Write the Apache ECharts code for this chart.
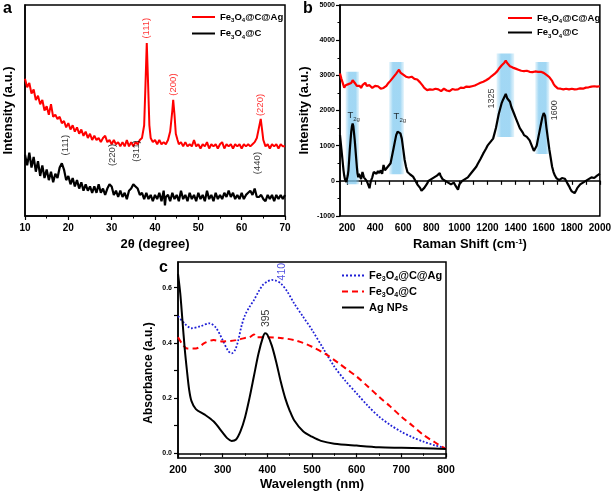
<!DOCTYPE html>
<html><head><meta charset="utf-8">
<script src="https://cdn.jsdelivr.net/npm/echarts@6/dist/echarts.min.js"></script>
<style>html,body{margin:0;padding:0;background:#fff}#c{width:614px;height:494px}</style>
</head><body><div id="c"></div>
<script>
const FONT = 'Liberation Sans, Arial, sans-serif';

// ---- Panel a: XRD (arbitrary intensity units) ----
const aRed = [[10,65],[10.5,61],[11,63],[11.5,58],[12,60],[12.5,55],[13,57],[13.5,53],[14,55],[14.5,50],[15,52],[15.5,48],[16,53],[16.5,47],[17,48],[17.5,46],[18,47],[18.5,44],[19,45],[19.5,42],[20,44],[20.5,41],[21,43],[21.5,40],[22,42],[22.5,39],[23,41],[23.5,38],[24,40],[24.5,37],[25,39],[25.5,36],[26,38],[26.5,36],[27,37],[27.5,35],[28,37],[28.5,38],[29,35],[29.5,36],[30,34],[30.5,36],[31,34],[31.5,35],[32,33],[32.5,35],[33,33],[33.5,36],[34,33],[34.5,35],[35,33],[35.5,35],[36,34],[36.5,36],[37,37],[37.5,43],[37.8,62],[38.1,82],[38.4,63],[38.7,43],[39,37],[39.5,35],[40,36],[40.5,34],[41,36],[41.5,34],[42,35],[42.5,34],[43,36],[43.5,40],[44,50],[44.2,55],[44.5,48],[44.8,39],[45.2,36],[45.5,34],[46,35],[46.5,33],[47,35],[47.5,33],[48,34],[48.5,33],[49,36],[49.5,33],[50,34],[50.5,32],[51,34],[51.5,33],[52,35],[52.5,32],[53,34],[53.5,33],[54,34],[54.5,32],[55,34],[55.5,35],[56,32],[56.5,34],[57,33],[57.5,34],[58,32],[58.5,34],[59,33],[59.5,34],[60,32],[60.5,34],[61,33],[61.5,34],[62,33],[62.5,34],[63,35],[63.5,37],[64,42],[64.4,46],[64.7,41],[65,36],[65.5,33],[66,34],[66.5,32],[67,34],[67.5,33],[68,34],[68.5,32],[69,34],[69.5,33],[70,33]];
const aBlack = [[10,29],[10.5,24],[11,30],[11.5,23],[12,28],[12.5,21],[13,26],[13.5,19],[14,24],[14.5,18],[15,22],[15.5,17],[16,21],[16.5,16],[17,20],[17.5,18],[18,23],[18.5,25],[19,22],[19.5,17],[20,19],[20.5,15],[21,18],[21.5,14],[22,17],[22.5,13],[23,16],[23.5,12],[24,15],[24.5,12],[25,14],[25.5,11],[26,14],[26.5,11],[27,15],[27.5,11],[28,13],[28.5,10],[29,13],[29.5,15],[30,14],[30.5,10],[31,12],[31.5,9],[32,12],[32.5,9],[33,11],[33.5,8],[34,12],[34.5,13],[35,15],[35.5,14],[36,13],[36.5,10],[37,11],[37.5,8],[38,11],[38.5,8],[39,10],[39.5,7],[40,10],[40.5,8],[41,11],[41.5,7],[42,12],[42.3,5],[42.5,9],[43,10],[43.5,7],[44,11],[44.5,8],[45,10],[45.5,7],[46,12],[46.5,8],[47,10],[47.5,7],[48,11],[48.5,8],[49,10],[49.5,7],[50,11],[50.5,8],[51,10],[51.5,7],[52,12],[52.5,8],[53,10],[53.5,7],[54,11],[54.5,8],[55,10],[55.5,8],[56,11],[56.5,9],[57,12],[57.5,9],[58,11],[58.5,8],[59,10],[59.5,8],[60,11],[60.5,8],[61,10],[61.5,11],[62,12],[62.5,10],[63,13],[63.5,9],[64,9],[64.5,10],[65,8],[65.5,7],[66,10],[66.5,8],[67,10],[67.5,7],[68,10],[68.5,8],[69,10],[69.5,8],[70,10]];
const aAnnRed = [[38.1,89,'(111)'],[44.2,62.3,'(200)'],[64.4,52.6,'(220)']];
const aAnnBlack = [[19.4,33.6,'(111)'],[30.1,28.9,'(220)'],[35.6,30.8,'(311)'],[63.7,25.1,'(440)']];

// ---- Panel b: Raman ----
const bRed = [[150,3050],[160,2900],[170,2780],[180,2650],[190,2720],[200,2680],[210,2750],[220,2700],[230,2780],[240,2860],[250,2820],[260,2760],[270,2700],[280,2660],[290,2700],[300,2640],[310,2720],[320,2680],[330,2790],[340,2700],[350,2680],[360,2720],[370,2690],[380,2640],[390,2620],[400,2700],[410,2730],[420,2690],[430,2660],[440,2620],[450,2600],[460,2640],[470,2660],[480,2700],[490,2760],[500,2800],[510,2850],[520,2900],[530,2950],[540,3000],[550,3050],[560,3100],[570,3160],[580,3080],[590,3060],[600,3020],[610,3000],[620,2960],[630,2980],[640,2940],[650,2920],[660,2960],[670,2950],[680,2900],[690,2920],[700,2880],[710,2850],[720,2800],[730,2760],[740,2700],[750,2640],[760,2600],[770,2580],[780,2560],[790,2600],[800,2570],[810,2590],[820,2560],[830,2620],[840,2580],[850,2600],[860,2570],[870,2550],[880,2600],[890,2620],[900,2580],[910,2570],[920,2600],[930,2550],[940,2580],[950,2610],[960,2580],[970,2590],[980,2620],[990,2600],[1000,2630],[1010,2650],[1020,2610],[1030,2640],[1040,2660],[1050,2680],[1060,2650],[1070,2670],[1080,2700],[1090,2690],[1100,2720],[1110,2710],[1120,2740],[1130,2750],[1140,2760],[1150,2790],[1160,2800],[1170,2820],[1180,2850],[1190,2860],[1200,2900],[1210,2910],[1220,2950],[1230,2980],[1240,3000],[1250,3040],[1260,3080],[1270,3120],[1280,3180],[1290,3220],[1300,3280],[1310,3320],[1320,3360],[1330,3420],[1340,3350],[1350,3300],[1360,3260],[1370,3240],[1380,3220],[1390,3200],[1400,3190],[1410,3170],[1420,3160],[1430,3140],[1440,3130],[1450,3110],[1460,3120],[1470,3100],[1480,3130],[1490,3110],[1500,3100],[1510,3120],[1520,3090],[1530,3100],[1540,3110],[1550,3090],[1560,3100],[1570,3080],[1580,3100],[1590,3090],[1600,3070],[1610,3040],[1620,3010],[1630,2980],[1640,2950],[1650,2900],[1660,2840],[1670,2760],[1680,2700],[1690,2650],[1700,2630],[1720,2620],[1740,2600],[1760,2620],[1780,2600],[1800,2620],[1820,2600],[1840,2610],[1860,2630],[1880,2620],[1900,2650],[1920,2660],[1940,2680],[1960,2690],[1980,2680],[2000,2690]];
const bBlack = [[150,1300],[155,1100],[160,900],[165,700],[170,500],[175,300],[180,150],[185,50],[190,0],[195,-30],[200,60],[205,150],[210,300],[215,600],[220,900],[225,1150],[230,1400],[235,1550],[240,1630],[245,1550],[250,1350],[255,1150],[260,900],[265,650],[270,400],[275,200],[280,100],[285,200],[290,150],[295,250],[300,50],[305,150],[310,250],[315,180],[320,100],[330,50],[340,0],[350,-100],[355,-150],[360,-210],[365,-100],[370,0],[380,100],[390,250],[400,300],[410,200],[420,280],[430,220],[440,300],[450,200],[460,450],[470,300],[480,250],[490,400],[500,350],[510,500],[520,700],[530,900],[540,1100],[550,1300],[560,1400],[570,1420],[580,1350],[590,1200],[600,900],[610,600],[620,400],[630,250],[640,200],[650,180],[660,150],[670,120],[680,50],[690,0],[700,-100],[710,-150],[720,-200],[730,-280],[740,-250],[750,-200],[760,-150],[770,-80],[780,0],[790,-30],[800,50],[810,80],[820,100],[830,60],[840,150],[850,120],[860,220],[865,150],[870,100],[880,50],[890,80],[900,0],[910,-30],[920,-50],[930,-20],[940,-100],[950,-60],[960,-50],[970,-120],[980,-150],[990,-250],[1000,-100],[1010,-50],[1020,0],[1030,30],[1040,50],[1050,80],[1060,100],[1070,150],[1080,200],[1090,250],[1100,300],[1110,350],[1120,400],[1130,480],[1140,550],[1150,620],[1160,700],[1170,780],[1180,850],[1190,920],[1200,1000],[1210,1050],[1220,1100],[1230,1150],[1240,1200],[1250,1350],[1260,1500],[1270,1700],[1280,1900],[1290,2050],[1300,2200],[1310,2300],[1320,2350],[1330,2470],[1340,2350],[1350,2300],[1360,2250],[1370,2100],[1380,2000],[1390,1900],[1400,1800],[1410,1700],[1420,1600],[1430,1500],[1440,1450],[1450,1380],[1460,1300],[1470,1280],[1480,1250],[1490,1200],[1500,1150],[1510,1050],[1520,950],[1530,850],[1540,900],[1550,1000],[1560,1200],[1570,1400],[1580,1600],[1590,1800],[1600,1930],[1610,1850],[1620,1500],[1630,1200],[1640,900],[1650,650],[1660,400],[1670,250],[1680,150],[1690,80],[1700,50],[1710,20],[1720,0],[1730,80],[1740,100],[1750,60],[1760,0],[1770,-80],[1780,-150],[1790,-230],[1800,-300],[1810,-330],[1820,-350],[1830,-280],[1840,-200],[1850,-150],[1860,-100],[1870,-80],[1880,-50],[1890,-20],[1900,0],[1910,30],[1920,50],[1930,80],[1940,100],[1950,60],[1960,80],[1970,120],[1980,150],[1990,100],[2000,200]];
const bBands = [[190,285,-100,3100],[500,605,190,3380],[1265,1390,1250,3620],[1540,1640,760,3380]];
const bAnn = [[247,1850,'{n|T}{s|2g}',0],[576,1820,'{n|T}{s|2g}',0],[1230,2340,'1325',90],[1677,2010,'1600',90]];
const bXTicks = [200,300,400,500,600,700,800,900,1000,1100,1200,1300,1400,1500,1600,1700,1800,1900,2000];
const bXLabels = [200,400,600,800,1000,1200,1400,1600,1800,2000];

// ---- Panel c: UV-Vis ----
const cBlue = [[200,0.497],[215,0.47],[230,0.453],[250,0.46],[270,0.471],[285,0.455],[300,0.41],[312,0.372],[320,0.362],[328,0.375],[335,0.41],[342,0.46],[350,0.50],[360,0.53],[370,0.555],[380,0.585],[390,0.61],[400,0.622],[410,0.628],[420,0.625],[430,0.616],[445,0.585],[460,0.543],[480,0.495],[500,0.447],[525,0.38],[550,0.314],[575,0.262],[600,0.217],[625,0.172],[650,0.133],[675,0.103],[700,0.078],[725,0.058],[750,0.042],[775,0.029],[800,0.018]];
const cRed = [[200,0.42],[210,0.395],[220,0.38],[240,0.38],[260,0.40],[280,0.41],[300,0.405],[330,0.41],[350,0.418],[360,0.42],[370,0.43],[375,0.42],[400,0.42],[430,0.418],[460,0.41],[480,0.40],[500,0.386],[530,0.36],[560,0.326],[580,0.302],[600,0.278],[625,0.242],[650,0.205],[675,0.17],[700,0.133],[725,0.1],[750,0.066],[775,0.04],[800,0.015]];
const cBlack = [[200,0.65],[205,0.58],[210,0.48],[215,0.38],[220,0.30],[225,0.23],[230,0.19],[240,0.16],[260,0.14],[280,0.115],[300,0.075],[310,0.055],[320,0.045],[330,0.05],[340,0.08],[350,0.13],[360,0.2],[370,0.28],[380,0.36],[390,0.42],[395,0.435],[400,0.43],[410,0.39],[420,0.33],[430,0.26],[440,0.2],[450,0.155],[460,0.12],[480,0.08],[500,0.06],[520,0.045],[550,0.035],[600,0.028],[650,0.022],[700,0.02],[750,0.018],[800,0.016]];
const cAnn = [[432,0.658,'410','#1f1fd6'],[398,0.489,'395','#000']];
const cYLabels = [0,0.2,0.4,0.6];
const cYTicks = [0,0.1,0.2,0.3,0.4,0.5,0.6];

const legendText = {
  aFCA:'{n|Fe}{s|3}{n|O}{s|4}{n|@C@Ag}', aFC:'{n|Fe}{s|3}{n|O}{s|4}{n|@C}',
  bFCA:'{n|Fe}{s|3}{n|O}{s|4}{n|@C@Ag}', bFC:'{n|Fe}{s|3}{n|O}{s|4}{n|@C}',
  cFCA:'{n|Fe}{s|3}{n|O}{s|4}{n|@C@Ag}', cFC:'{n|Fe}{s|3}{n|O}{s|4}{n|@C}', cAg:'{n|Ag NPs}'
};
const subRich = (fn, fs, lh) => ({
  n:{fontSize:fn, fontWeight:'bold', fontFamily:FONT, color:'#000', lineHeight:lh, verticalAlign:'middle'},
  s:{fontSize:fs, fontWeight:'bold', fontFamily:FONT, color:'#000', lineHeight:fs, verticalAlign:'bottom'}
});

const axisLine = {show:true, lineStyle:{color:'#000', width:1.5}};
const tick = {show:true, inside:false, length:4, lineStyle:{color:'#000', width:1.2}};
const minor = {show:true, splitNumber:2, length:2.5, lineStyle:{color:'#000', width:1}};
const nameStyle = {fontFamily:FONT, fontWeight:'bold', fontSize:13, color:'#000'};
const plain = (v) => String(v);

function annSeries(arr, xi, color, rot, fs, rich){
  return {type:'scatter', xAxisIndex:xi, yAxisIndex:xi, symbol:'circle', symbolSize:0.1, silent:true, z:5,
    itemStyle:{color:'rgba(0,0,0,0)'},
    data: arr.map(d => ({value:[d[0],d[1]], label:{formatter:d[2], rotate: (typeof d[3]==='number') ? d[3] : rot, color: (typeof d[3]==='string') ? d[3] : color}})),
    label:{show:true, position:'inside', fontFamily:FONT, fontSize:fs, color:color, rich:rich||{}}};
}

const grad = {type:'linear', x:0, y:0, x2:1, y2:0, colorStops:[
  {offset:0, color:'rgba(160,215,242,0.3)'},{offset:0.25, color:'rgba(130,202,240,0.75)'},
  {offset:0.75, color:'rgba(130,202,240,0.75)'},{offset:1, color:'rgba(160,215,242,0.3)'}]};

const legendBase = {orient:'vertical', selectedMode:false, itemStyle:{opacity:0}, formatter:(n)=>legendText[n]};

const option = {
  animation:false,
  backgroundColor:'#fff',
  textStyle:{fontFamily:FONT},
  grid:[
    {left:25, top:5, width:260, height:211, show:true, borderColor:'#000', borderWidth:1.5},
    {left:340, top:5, width:262, height:211, show:true, borderColor:'#000', borderWidth:1.5},
    {left:178, top:262, width:268, height:196, show:true, borderColor:'#000', borderWidth:1.5}
  ],
  xAxis:[
    {gridIndex:0, type:'value', min:10, max:70, interval:10, axisLine, axisTick:tick, minorTick:minor, splitLine:{show:false},
     axisLabel:{fontFamily:FONT, fontWeight:'bold', fontSize:10, color:'#000', margin:7, formatter:plain},
     name:'2θ (degree)', nameLocation:'middle', nameGap:22, nameTextStyle:nameStyle},
    {gridIndex:1, type:'value', min:150, max:2000, axisLine, splitLine:{show:false},
     axisTick:Object.assign({customValues:bXTicks}, tick),
     axisLabel:{customValues:bXLabels, formatter:plain, fontFamily:FONT, fontWeight:'bold', fontSize:10, color:'#000', margin:7},
     name:'Raman Shift (cm{p|-1})', nameLocation:'middle', nameGap:22,
     nameTextStyle:Object.assign({rich:{p:{fontSize:8, fontWeight:'bold', fontFamily:FONT, color:'#000', verticalAlign:'top', lineHeight:8}}}, nameStyle)},
    {gridIndex:2, type:'value', min:200, max:800, interval:100, axisLine, axisTick:tick, minorTick:minor, splitLine:{show:false},
     axisLabel:{fontFamily:FONT, fontWeight:'bold', fontSize:10.5, color:'#000', margin:7, formatter:plain},
     name:'Wavelength (nm)', nameLocation:'middle', nameGap:20, nameTextStyle:nameStyle}
  ],
  yAxis:[
    {gridIndex:0, type:'value', min:0, max:100, axisLine, axisTick:{show:false}, axisLabel:{show:false}, splitLine:{show:false},
     name:'Intensity (a.u.)', nameLocation:'middle', nameGap:10, nameTextStyle:nameStyle},
    {gridIndex:1, type:'value', min:-1000, max:5000, interval:1000, axisLine, axisTick:tick, minorTick:minor, splitLine:{show:false},
     axisLabel:{fontFamily:FONT, fontWeight:'bold', fontSize:7, color:'#000', margin:5, formatter:plain},
     name:'Intensity (a.u.)', nameLocation:'middle', nameGap:29, nameTextStyle:nameStyle},
    {gridIndex:2, type:'value', min:-0.017, max:0.693, axisLine, splitLine:{show:false},
     axisTick:Object.assign({customValues:cYTicks}, tick),
     axisLabel:{customValues:cYLabels, formatter:(v)=>v.toFixed(1), fontFamily:FONT, fontWeight:'bold', fontSize:7, color:'#000', margin:6},
     name:'Absorbance (a.u.)', nameLocation:'middle', nameGap:23, nameTextStyle:Object.assign({}, nameStyle, {fontSize:12, padding:[0,26,0,0]})}
  ],
  legend:[
    Object.assign({data:['aFCA','aFC'], left:186, top:7, itemWidth:23, itemHeight:10, itemGap:5,
     textStyle:{fontFamily:FONT, fontWeight:'bold', fontSize:9.5, color:'#000', rich:subRich(9.5, 6, 13)}}, legendBase),
    Object.assign({data:['bFCA','bFC'], left:502, top:8, itemWidth:24, itemHeight:10, itemGap:3,
     textStyle:{fontFamily:FONT, fontWeight:'bold', fontSize:9.5, color:'#000', rich:subRich(9.5, 6, 13)}}, legendBase),
    Object.assign({data:['cFCA','cFC','cAg'], left:336, top:265, itemWidth:22, itemHeight:10, itemGap:3,
     textStyle:{fontFamily:FONT, fontWeight:'bold', fontSize:11, color:'#000', rich:subRich(11, 7, 15)}}, legendBase)
  ],
  graphic:[
    {type:'text', left:3, top:1, style:{text:'a', font:'bold 16px '+FONT, fill:'#000'}},
    {type:'text', left:303, top:1, style:{text:'b', font:'bold 16px '+FONT, fill:'#000'}},
    {type:'text', left:159, top:260, style:{text:'c', font:'bold 16px '+FONT, fill:'#000'}}
  ],
  series:[
    {name:'aFCA', type:'line', xAxisIndex:0, yAxisIndex:0, data:aRed, symbol:'none', z:3, lineStyle:{color:'#ff0000', width:2}, itemStyle:{color:'#ff0000'}},
    {name:'aFC', type:'line', xAxisIndex:0, yAxisIndex:0, data:aBlack, symbol:'none', z:3, lineStyle:{color:'#000', width:2.2}, itemStyle:{color:'#000'}},
    annSeries(aAnnRed, 0, '#ff0000', 90, 9.5),
    annSeries(aAnnBlack, 0, '#000', 90, 9.5),
    {type:'line', xAxisIndex:1, yAxisIndex:1, data:[[150,-5000]], symbol:'none', z:1, lineStyle:{opacity:0}, silent:true,
     markArea:{silent:true, itemStyle:{color:grad}, data: bBands.map(b=>[{coord:[b[0],b[2]]},{coord:[b[1],b[3]]}])}},
    {name:'bFCA', type:'line', xAxisIndex:1, yAxisIndex:1, data:bRed, symbol:'none', z:3, lineStyle:{color:'#ff0000', width:2.2}, itemStyle:{color:'#ff0000'}},
    {name:'bFC', type:'line', xAxisIndex:1, yAxisIndex:1, data:bBlack, symbol:'none', z:3, lineStyle:{color:'#000', width:2.2}, itemStyle:{color:'#000'}},
    annSeries(bAnn, 1, '#000', 0, 9, {n:{fontSize:9.5, fontFamily:FONT, color:'#000', lineHeight:13, verticalAlign:'middle'}, s:{fontSize:6, fontFamily:FONT, color:'#000', verticalAlign:'bottom', lineHeight:6}}),
    {name:'cFCA', type:'line', xAxisIndex:2, yAxisIndex:2, data:cBlue, symbol:'none', smooth:0.3, z:3, lineStyle:{color:'#1f1fd6', width:1.8, type:'dotted'}, itemStyle:{color:'#1f1fd6'}},
    {name:'cFC', type:'line', xAxisIndex:2, yAxisIndex:2, data:cRed, symbol:'none', smooth:0.3, z:3, lineStyle:{color:'#ff0000', width:2, type:[6,4]}, itemStyle:{color:'#ff0000'}},
    {name:'cAg', type:'line', xAxisIndex:2, yAxisIndex:2, data:cBlack, symbol:'none', smooth:0.3, z:3, lineStyle:{color:'#000', width:2}, itemStyle:{color:'#000'}},
    annSeries(cAnn, 2, '#000', 90, 10.5)
  ]
};
const chart = echarts.init(document.getElementById('c'), null, {renderer:'canvas'});
chart.setOption(option);
</script></body></html>
